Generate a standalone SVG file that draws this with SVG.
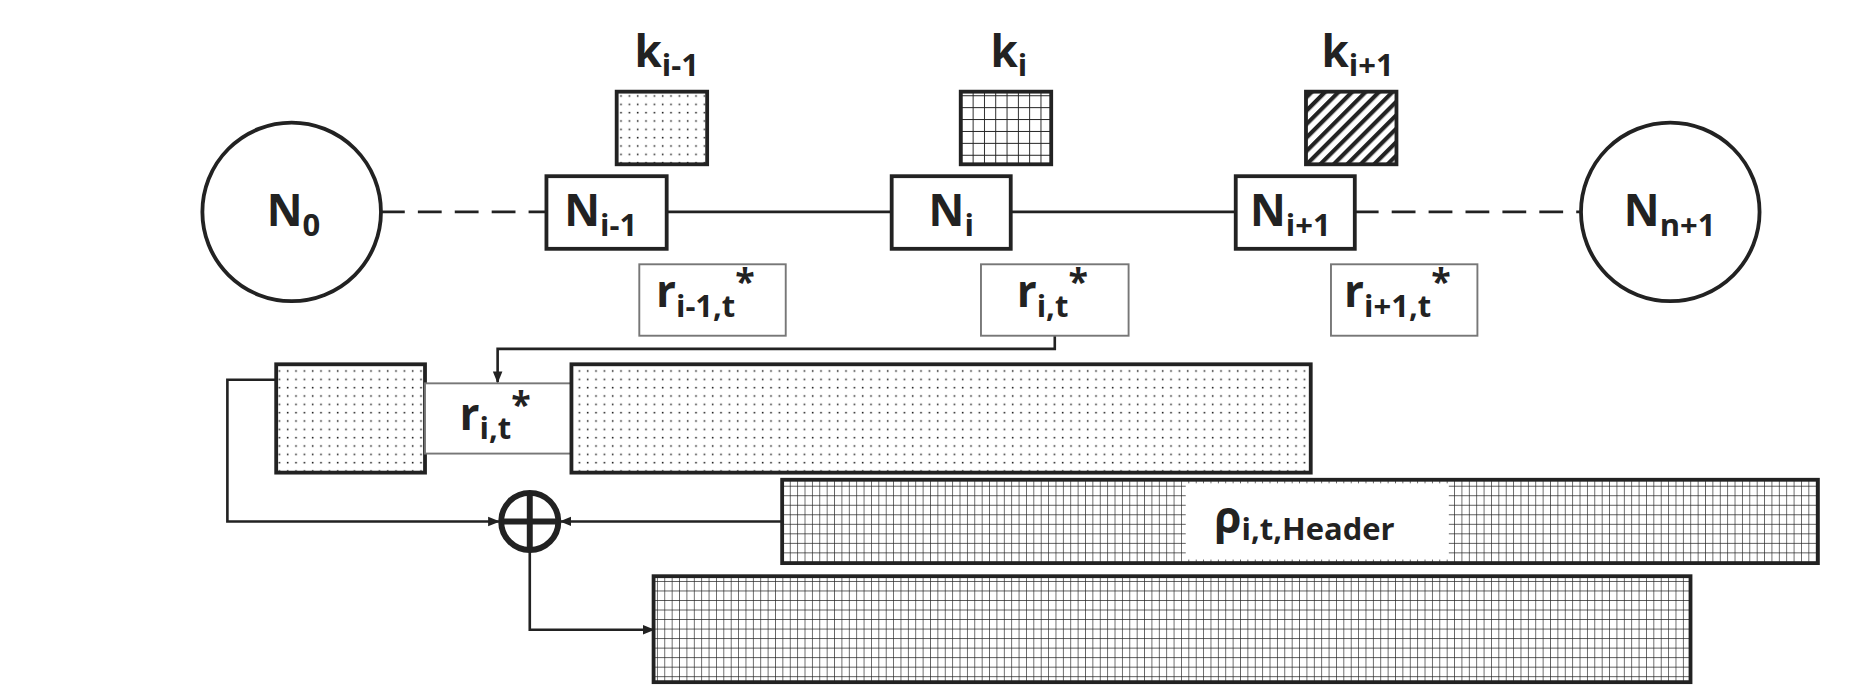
<svg xmlns="http://www.w3.org/2000/svg" width="1864" height="686" viewBox="0 0 1864 686">
<defs>
<pattern id="dots" width="7" height="7" patternUnits="userSpaceOnUse"><rect width="7" height="7" fill="#fff"/><rect x="3" y="3" width="1.3" height="1.3" fill="#222"/></pattern>
<pattern id="grid" width="9.5" height="10" patternUnits="userSpaceOnUse"><rect width="9.5" height="10" fill="#fff"/><path d="M0 0H9.5M0 0V10" stroke="#222" stroke-width="1.6" fill="none"/></pattern>
<pattern id="grid2" width="6.2" height="8" patternUnits="userSpaceOnUse"><rect width="6.2" height="8" fill="#fff"/><path d="M0 0H6.2M0 0V8" stroke="#222" stroke-width="1.1" fill="none"/></pattern>
<pattern id="hatch" width="8" height="8" patternUnits="userSpaceOnUse" patternTransform="rotate(45)"><rect width="8" height="8" fill="#fff"/><rect width="3.5" height="8" fill="#222"/></pattern>
<marker id="arr" markerWidth="10" markerHeight="10" refX="9" refY="5" orient="auto" markerUnits="userSpaceOnUse"><path d="M0 1L10 5L0 9Z" fill="#222"/></marker>
<style>
.t{font-family:"Open Sans","DejaVu Sans",sans-serif;font-weight:bold;fill:#222}
.big{font-size:37px}.sub{font-size:26px}.st{font-size:30px}
.b{fill:#fff;stroke:#222;stroke-width:3.2}
.g{fill:#fff;stroke:#777;stroke-width:1.6}
.c{fill:none;stroke:#222;stroke-width:2.2}
</style>
</defs>
<g transform="scale(1.1905)">
<g id="connectors">
<path class="c" d="M320 178H459" stroke-width="4" stroke-dasharray="20,11"/>
<path class="c" d="M1138 178H1328" stroke-width="4" stroke-dasharray="20,11"/>
<path class="c" d="M560 178H749M849 178H1038" stroke-width="4"/>
<path class="c" d="M886 282V293H418V321" stroke-width="2.8" marker-end="url(#arr)"/>
<path class="c" d="M232 319H191V438H419" marker-end="url(#arr)"/>
<path class="c" d="M657 438H471" marker-end="url(#arr)"/>
<path class="c" d="M445 463V529H549" marker-end="url(#arr)"/>
</g>
<g id="N0"><circle cx="245" cy="178" r="75" class="b"/><text class="t" x="224" y="190"><tspan class="big">N</tspan><tspan class="sub" dy="8">0</tspan></text></g>
<g id="Nn1"><circle cx="1403" cy="178" r="75" class="b"/><text class="t" x="1364" y="190"><tspan class="big">N</tspan><tspan class="sub" dy="8">n+1</tspan></text></g>
<g id="Nim1"><rect x="459" y="148" width="101" height="61" class="b"/><text class="t" x="474" y="190"><tspan class="big">N</tspan><tspan class="sub" dy="8">i-1</tspan></text></g>
<g id="Ni"><rect x="749" y="148" width="100" height="61" class="b"/><text class="t" x="780" y="190"><tspan class="big">N</tspan><tspan class="sub" dy="8">i</tspan></text></g>
<g id="Nip1"><rect x="1038" y="148" width="100" height="61" class="b"/><text class="t" x="1050" y="190"><tspan class="big">N</tspan><tspan class="sub" dy="8">i+1</tspan></text></g>
<g id="kim1"><rect x="518" y="77" width="76" height="61" fill="url(#dots)" stroke="#222" stroke-width="3.2"/><text class="t" x="533" y="56"><tspan class="big">k</tspan><tspan class="sub" dy="8">i-1</tspan></text></g>
<g id="ki"><rect x="807" y="77" width="76" height="61" fill="url(#grid)" stroke="#222" stroke-width="3.2"/><text class="t" x="832" y="56"><tspan class="big">k</tspan><tspan class="sub" dy="8">i</tspan></text></g>
<g id="kip1"><rect x="1097" y="77" width="76" height="61" fill="url(#hatch)" stroke="#222" stroke-width="3.2"/><text class="t" x="1110" y="56"><tspan class="big">k</tspan><tspan class="sub" dy="8">i+1</tspan></text></g>
<g id="rim1"><rect x="537" y="222" width="123" height="60" class="g"/><text class="t" x="551" y="258"><tspan class="big">r</tspan><tspan class="sub" dy="8">i-1,t</tspan><tspan class="st" dy="-19">*</tspan></text></g>
<g id="ri"><rect x="824" y="222" width="124" height="60" class="g"/><text class="t" x="854" y="258"><tspan class="big">r</tspan><tspan class="sub" dy="8">i,t</tspan><tspan class="st" dy="-19">*</tspan></text></g>
<g id="rip1"><rect x="1118" y="222" width="123" height="60" class="g"/><text class="t" x="1129" y="258"><tspan class="big">r</tspan><tspan class="sub" dy="8">i+1,t</tspan><tspan class="st" dy="-19">*</tspan></text></g>
<g id="row1">
<rect x="232" y="306" width="125" height="91" fill="url(#dots)" stroke="#222" stroke-width="3.2"/>
<rect x="357" y="322" width="123" height="59" class="g"/>
<text class="t" x="386" y="361"><tspan class="big">r</tspan><tspan class="sub" dy="8">i,t</tspan><tspan class="st" dy="-19">*</tspan></text>
<rect x="480" y="306" width="621" height="91" fill="url(#dots)" stroke="#222" stroke-width="3.2"/>
</g>
<g id="row2">
<rect x="657" y="403" width="870" height="70" fill="url(#grid2)" stroke="#222" stroke-width="3.2"/>
<rect x="996" y="406" width="221" height="64" fill="#fff"/>
<text class="t" x="1020" y="448"><tspan class="big">ρ</tspan><tspan class="sub" dy="6">i,t,Header</tspan></text>
</g>
<g id="xor"><circle cx="445" cy="438" r="24" fill="#fff" stroke="#222" stroke-width="5"/><path d="M421 438H469M445 414V462" stroke="#222" stroke-width="5"/></g>
<g id="row3"><rect x="549" y="484" width="871" height="89" fill="url(#grid2)" stroke="#222" stroke-width="3.2"/></g>
</g>
</svg>
